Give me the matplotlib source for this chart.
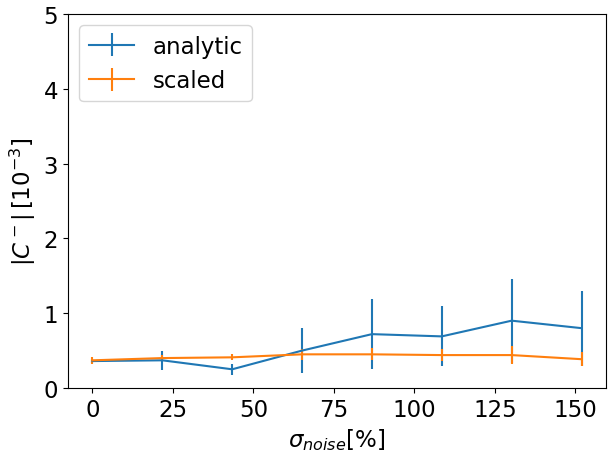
import matplotlib
matplotlib.use("Agg")
import matplotlib.pyplot as plt

noise = [0, 21.7, 43.4, 65.1, 86.8, 108.5, 130.2, 151.9]

analytic = [0.36, 0.37, 0.25, 0.50, 0.72, 0.69, 0.90, 0.80]
analytic_err = [0.03, 0.13, 0.07, 0.30, 0.47, 0.40, 0.56, 0.50]

scaled = [0.37, 0.40, 0.41, 0.45, 0.45, 0.44, 0.44, 0.385]
scaled_err = [0.05, 0.04, 0.04, 0.07, 0.08, 0.08, 0.12, 0.09]

plt.rcParams["font.size"] = 16.5

fig, ax = plt.subplots(figsize=(6.1, 4.52), dpi=100)
ax.errorbar(noise, analytic, yerr=analytic_err, label="analytic")
ax.errorbar(noise, scaled, yerr=scaled_err, label="scaled")
ax.set_ylim(0, 5)
ax.set_xlabel(r"$\sigma_{noise}[\%]$")
ax.set_ylabel(r"$|C^-|\,[10^{-3}]$")
ax.legend(loc="upper left")
fig.subplots_adjust(left=0.1115, right=0.9934, top=0.9668, bottom=0.1394)
fig.savefig("out.png")
